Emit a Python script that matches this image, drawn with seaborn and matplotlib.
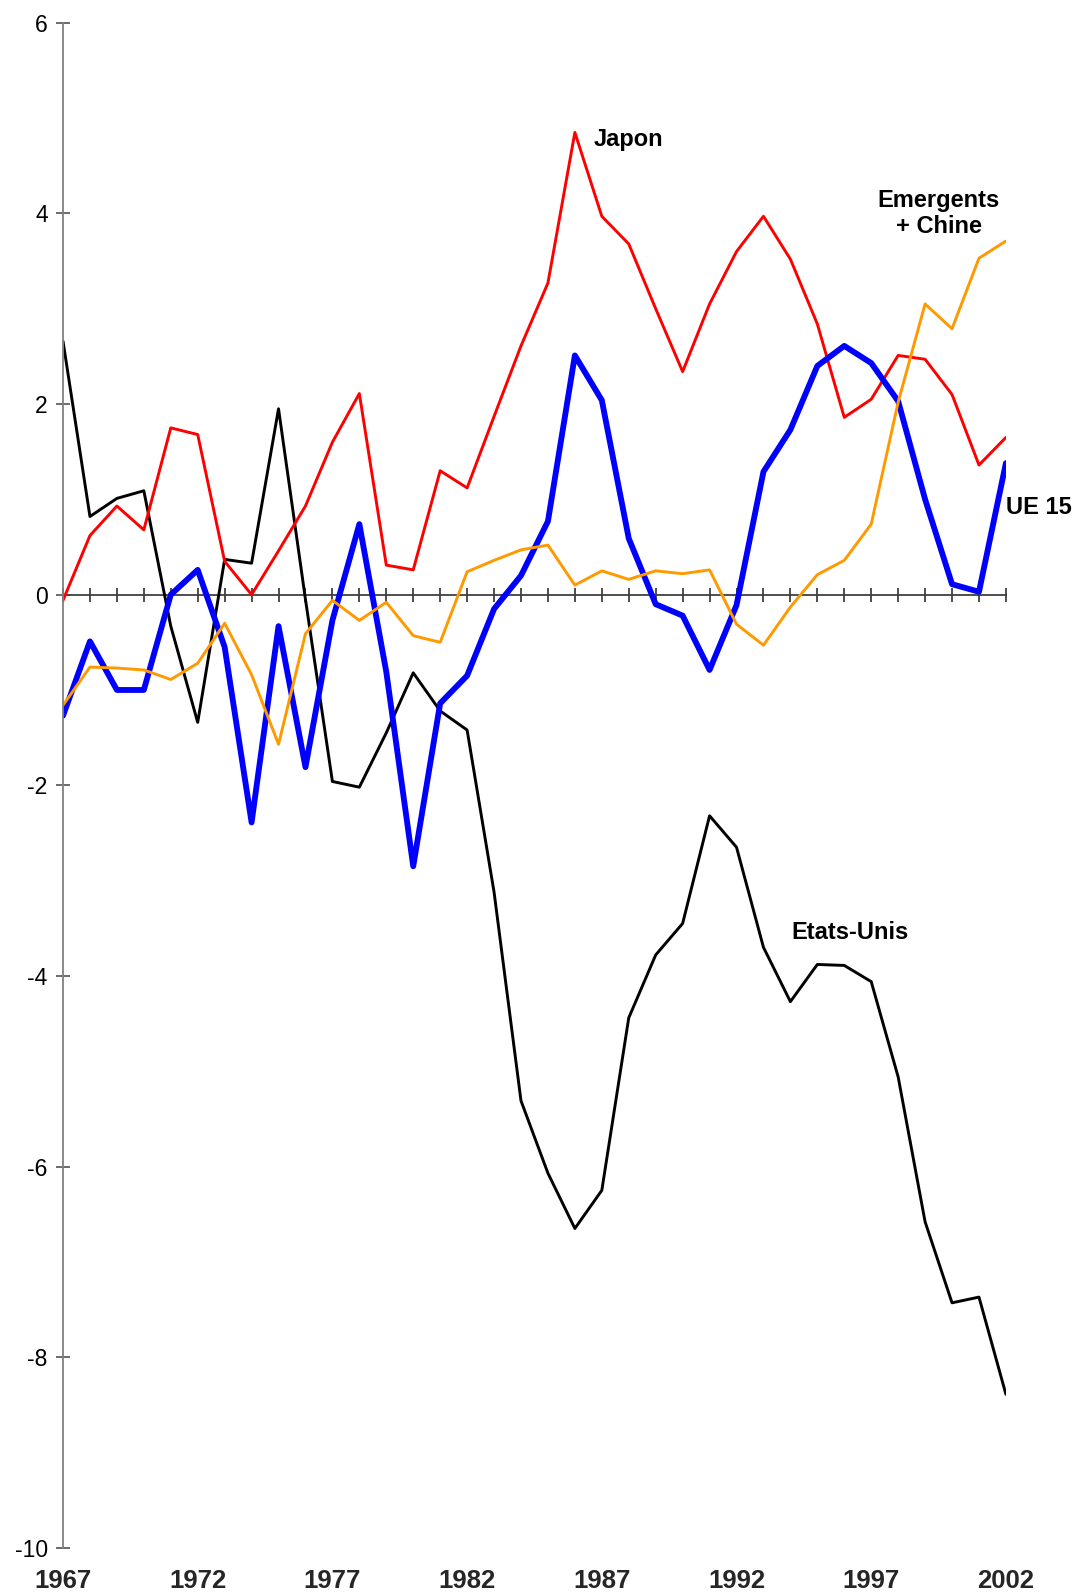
import numpy as np
import pandas as pd
import matplotlib
matplotlib.use("Agg")
import matplotlib.pyplot as plt
import seaborn as sns

# annual values
years = list(range(1967, 2003))

etats_unis = [2.66, 0.82, 1.01, 1.09, -0.33, -1.34, 0.37, 0.33, 1.95, -0.05,
              -1.96, -2.02, -1.45, -0.82, -1.22, -1.42, -3.12, -5.31, -6.07, -6.65,
              -6.25, -4.44, -3.78, -3.45, -2.32, -2.65, -3.70, -4.27, -3.88, -3.89,
              -4.06, -5.06, -6.58, -7.43, -7.37, -8.39]

japon = [-0.06, 0.62, 0.93, 0.68, 1.75, 1.68, 0.35, 0.00, 0.46, 0.93,
         1.60, 2.11, 0.31, 0.26, 1.30, 1.12, 1.87, 2.61, 3.27, 4.85,
         3.97, 3.68, 3.00, 2.34, 3.05, 3.60, 3.97, 3.52, 2.84, 1.86,
         2.05, 2.51, 2.47, 2.10, 1.36, 1.65]

ue15 = [-1.27, -0.49, -1.00, -1.00, 0.00, 0.26, -0.55, -2.39, -0.33, -1.81,
        -0.27, 0.74, -0.81, -2.85, -1.14, -0.85, -0.15, 0.20, 0.77, 2.51,
        2.04, 0.59, -0.10, -0.22, -0.79, -0.11, 1.29, 1.73, 2.40, 2.61,
        2.43, 2.03, 1.00, 0.11, 0.03, 1.38]

emergents = [-1.16, -0.76, -0.77, -0.79, -0.89, -0.72, -0.30, -0.84, -1.57, -0.41,
             -0.06, -0.27, -0.08, -0.43, -0.50, 0.24, 0.36, 0.47, 0.52, 0.10,
             0.25, 0.16, 0.25, 0.22, 0.26, -0.31, -0.53, -0.13, 0.21, 0.36,
             0.74, 2.02, 3.05, 2.79, 3.53, 3.71]

series_names = ["Etats-Unis", "Japon", "UE 15", "Emergents + Chine"]
colors = ["#000000", "#FF0000", "#0000FF", "#FF9900"]
widths = [2.1, 2.1, 4.2, 2.1]
year_labels = [1967, 1972, 1977, 1982, 1987, 1992, 1997, 2002]
y_ticks = [6, 4, 2, 0, -2, -4, -6, -8, -10]

df = pd.DataFrame({"annee": years * 4,
                   "valeur": etats_unis + japon + ue15 + emergents,
                   "serie": sum([[n] * len(years) for n in series_names], [])})

sns.set_style("white")
plt.rcParams['font.family'] = ['Liberation Sans', 'DejaVu Sans']

fig = plt.figure(figsize=(10.77, 15.94), dpi=100)
ax = fig.add_axes([0.0585, 0.029, 0.8755, 0.9567])

for name, col, lw in zip(series_names, colors, widths):
    sns.lineplot(data=df[df["serie"] == name], x="annee", y="valeur",
                 color=col, linewidth=lw, ax=ax, legend=False)

ax.set_xlim(1967, 2002)
ax.set_ylim(-10, 6)
ax.set_xlabel("")
ax.set_ylabel("")

# axes: vertical on the left, horizontal through zero
for s in ["top", "right"]:
    ax.spines[s].set_visible(False)
ax.spines["left"].set_color("#808080")
ax.spines["left"].set_linewidth(1.3)
ax.spines["bottom"].set_position(("data", 0))
ax.spines["bottom"].set_color("#404040")
ax.spines["bottom"].set_linewidth(1.3)
ax.spines["bottom"].set_zorder(1)

ax.set_yticks(y_ticks)
ax.set_yticklabels([str(v) for v in y_ticks], fontsize=16.5)
ax.tick_params(axis="y", direction="inout", length=10, width=1.3, color="#606060",
               left=True, pad=6, labelcolor="black")
ax.set_xticks(years)
ax.set_xticklabels([])
ax.tick_params(axis="x", direction="inout", length=10, width=1.3, color="#404040",
               bottom=True)

for yr in year_labels:
    ax.text(yr, -0.022, str(yr), transform=ax.get_xaxis_transform(),
            ha="center", va="center", fontsize=18.5, fontweight="bold")

lab = dict(fontsize=17, fontweight="bold", color="black")
ax.text(1988.0, 4.78, "Japon", ha="center", va="center", **lab)
ax.text(1999.5, 4.0, "Emergents\n+ Chine", ha="center", va="center",
        linespacing=1.2, **lab)
ax.text(2002.0, 0.91, "UE 15", ha="left", va="center", clip_on=False, **lab)
ax.text(1996.2, -3.54, "Etats-Unis", ha="center", va="center", **lab)

fig.savefig("out.png", dpi=100)
